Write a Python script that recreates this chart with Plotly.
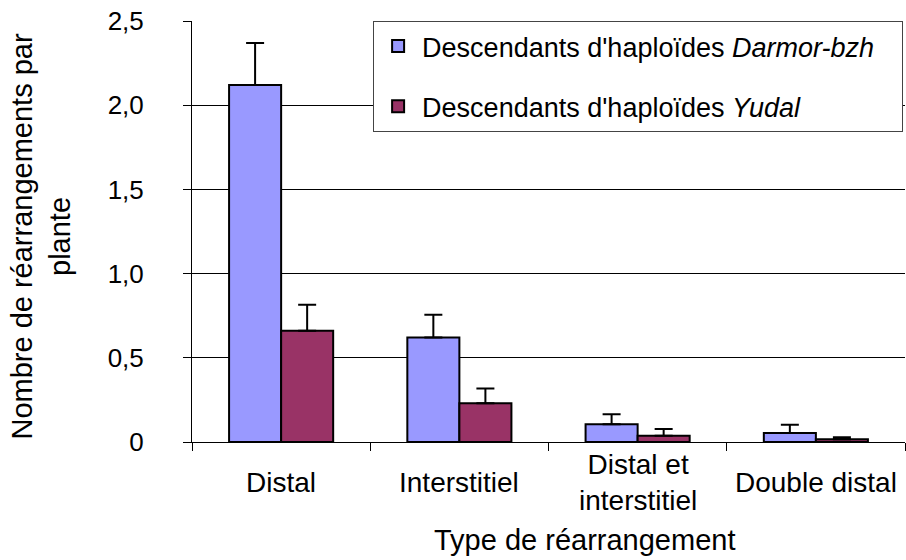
import plotly.graph_objects as go

# Rearrangement types (x categories) and their display labels
categories = ["Distal", "Interstitiel", "Distal et interstitiel", "Double distal"]
category_labels = ["Distal", "Interstitiel", "Distal et<br>interstitiel", "Double distal"]

# Mean number of rearrangements per plant and upper error (standard error)
darmor_values = [2.12, 0.62, 0.105, 0.053]
darmor_errors = [0.25, 0.135, 0.06, 0.05]
yudal_values = [0.66, 0.23, 0.037, 0.016]
yudal_errors = [0.155, 0.087, 0.04, 0.012]

# Y axis ticks (French decimal comma)
y_tickvals = [0, 0.5, 1.0, 1.5, 2.0, 2.5]
y_ticktext = ["0", "0,5", "1,0", "1,5", "2,0", "2,5"]

FONT = "Liberation Sans, Arial, sans-serif"
PAD = "&nbsp;" * 3  # right padding inside the legend box

fig = go.Figure()
fig.add_trace(go.Bar(
    x=categories, y=darmor_values,
    name="Descendants d'haploïdes <i>Darmor-bzh</i>" + PAD,
    legendgroup="a",
    marker=dict(color="#9999FF", line=dict(color="black", width=2)),
    error_y=dict(type="data", symmetric=False, array=darmor_errors,
                 arrayminus=[0] * len(darmor_errors),
                 color="black", thickness=2, width=9),
))
fig.add_trace(go.Bar(
    x=categories, y=yudal_values,
    name="Descendants d'haploïdes <i>Yudal</i>",
    legendgroup="b",
    marker=dict(color="#993366", line=dict(color="black", width=2)),
    error_y=dict(type="data", symmetric=False, array=yudal_errors,
                 arrayminus=[0] * len(yudal_errors),
                 color="black", thickness=2, width=9),
))

# Category labels, vertically centred under each group
for cat, lab in zip(categories, category_labels):
    fig.add_annotation(x=cat, xref="x", y=-0.097, yref="paper",
                       text=lab, showarrow=False, xanchor="center", yanchor="middle",
                       font=dict(family=FONT, size=28, color="black"))

# Axis titles
fig.add_annotation(x=0.55, xref="paper", y=-0.233, yref="paper",
                   text="Type de réarrangement", showarrow=False,
                   xanchor="center", yanchor="middle",
                   font=dict(family=FONT, size=29, color="black"))
fig.add_annotation(x=-0.212, xref="paper", y=0.49, yref="paper",
                   text="Nombre de réarrangements par<br>plante", showarrow=False,
                   textangle=-90, xanchor="center", yanchor="middle",
                   font=dict(family=FONT, size=29, color="black"))

fig.update_layout(
    width=906, height=560,
    margin=dict(l=192, r=1, t=21, b=118, autoexpand=False),
    paper_bgcolor="white", plot_bgcolor="white",
    barmode="group", bargap=0.416, bargroupgap=0,
    font=dict(family=FONT, color="black"),
    legend=dict(
        x=0.254, y=1.0, xanchor="left", yanchor="top",
        bgcolor="white", bordercolor="#444444", borderwidth=1,
        font=dict(family=FONT, size=27, color="black"),
        tracegroupgap=22, itemwidth=38,
    ),
    xaxis=dict(
        type="category", showticklabels=False,
        ticks="outside", tickson="boundaries", ticklen=8,
        tickcolor="black", showline=True, linecolor="black", linewidth=1,
        showgrid=False,
    ),
    yaxis=dict(
        range=[0, 2.5], tickvals=y_tickvals, ticktext=y_ticktext,
        ticks="outside", ticklen=8, tickcolor="black",
        showline=True, linecolor="black", linewidth=1,
        showgrid=True, gridcolor="black", gridwidth=1,
        zeroline=False, ticklabelstandoff=34,
        tickfont=dict(family=FONT, size=26, color="black"),
    ),
)

fig.write_html("out.html")
